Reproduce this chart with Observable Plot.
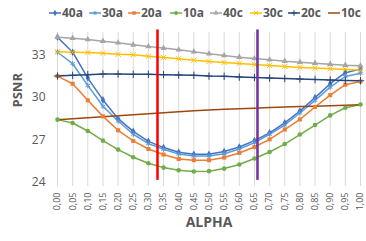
<!DOCTYPE html>
<html>
<head>
<meta charset="utf-8">
<script src="https://cdn.jsdelivr.net/npm/d3@7"></script>
<script src="https://cdn.jsdelivr.net/npm/@observablehq/plot@0.6"></script>
<style>
  html, body { margin: 0; padding: 0; background: #fff; }
  #wrap { position: relative; width: 366px; height: 241px; font-family: "Open Sans", "Liberation Sans", sans-serif; }
  #legend { position: relative; height: 24px; }
  .item { position: absolute; top: 4px; display: flex; align-items: center; font-size: 12px; font-weight: bold; color: #595959; }
  .item svg { margin-right: 1px; }
</style>
</head>
<body>
<div id="wrap">
  <div id="legend"></div>
  <div id="chart"></div>
</div>
<script>
const alpha = [0.00,0.05,0.10,0.15,0.20,0.25,0.30,0.35,0.40,0.45,0.50,0.55,0.60,0.65,0.70,0.75,0.80,0.85,0.90,0.95,1.00];
const yTicks = [24, 27, 30, 33];
const seriesNames = ["40a","30a","20a","10a","40c","30c","20c","10c"];
const seriesColors = ["#4472C4","#5B9BD5","#ED7D31","#70AD47","#A5A5A5","#FFC000","#264478","#9E480E"];
const seriesSymbols = ["diamond","asterisk","square","circle","triangle","times","plus",null];
const markers = [0.33, 0.66];
const markerColors = ["#FF0000", "#7030A0"];

const s40a = [34.24,33.18,31.36,29.82,28.50,27.60,26.90,26.46,26.13,25.99,25.99,26.18,26.50,26.95,27.50,28.20,29.04,29.98,30.96,31.74,31.99];
const s30a = [33.18,32.37,30.84,29.37,28.33,27.40,26.74,26.34,26.00,25.87,25.87,26.03,26.36,26.81,27.40,28.05,28.90,29.79,30.72,31.47,31.70];
const s20a = [31.50,30.96,29.79,28.66,27.68,26.93,26.36,25.97,25.66,25.57,25.57,25.76,26.08,26.50,27.04,27.73,28.45,29.32,30.16,30.89,31.12];
const s10a = [28.43,28.19,27.63,26.95,26.32,25.78,25.36,25.05,24.86,24.77,24.80,24.98,25.27,25.69,26.15,26.71,27.38,28.05,28.73,29.27,29.50];
const s40c = [34.24,34.17,34.08,33.96,33.85,33.70,33.58,33.47,33.35,33.21,33.07,32.95,32.83,32.74,32.65,32.55,32.48,32.41,32.34,32.27,32.23];
const s30c = [33.21,33.18,33.16,33.11,33.04,33.00,32.90,32.81,32.72,32.62,32.53,32.46,32.39,32.32,32.25,32.18,32.11,32.06,32.02,31.97,31.92];
const s20c = [31.50,31.55,31.60,31.64,31.64,31.62,31.62,31.60,31.57,31.55,31.50,31.48,31.43,31.40,31.36,31.33,31.29,31.26,31.22,31.19,31.17];
const s10c = [28.43,28.50,28.57,28.64,28.70,28.77,28.85,28.92,28.99,29.06,29.11,29.16,29.20,29.24,29.28,29.32,29.35,29.38,29.41,29.44,29.48];
const seriesValues = [s40a,s30a,s20a,s10a,s40c,s30c,s20c,s10c];

const rows = [];
seriesNames.forEach((name, si) => {
  alpha.forEach((a, i) => rows.push({series: name, alpha: a, psnr: seriesValues[si][i]}));
});

const symbolMap = {diamond: d3.symbolDiamond, asterisk: d3.symbolAsterisk, square: d3.symbolSquare, circle: d3.symbolCircle, triangle: d3.symbolTriangle, times: d3.symbolTimes, plus: d3.symbolPlus};
const isFilled = s => ["diamond","square","circle","triangle"].includes(s);

// legend
const legendX = [49, 89, 128, 170, 210, 250, 288, 328];
const legend = document.getElementById("legend");
seriesNames.forEach((name, i) => {
  const div = document.createElement("div");
  div.className = "item";
  div.style.left = legendX[i] + "px";
  const sw = d3.create("svg").attr("width", 12).attr("height", 10);
  sw.append("line").attr("x1", 0).attr("x2", 12).attr("y1", 5).attr("y2", 5)
    .attr("stroke", seriesColors[i]).attr("stroke-width", 1.5);
  if (seriesSymbols[i]) {
    const filled = isFilled(seriesSymbols[i]);
    sw.append("path").attr("transform", "translate(6,5)")
      .attr("d", d3.symbol(symbolMap[seriesSymbols[i]], 12)())
      .attr("fill", filled ? seriesColors[i] : "none")
      .attr("stroke", seriesColors[i]).attr("stroke-width", filled ? 0 : 1);
  }
  div.appendChild(sw.node());
  const t = document.createElement("span");
  t.textContent = name;
  div.appendChild(t);
  legend.appendChild(div);
});

const filledNames = seriesNames.filter((n, i) => isFilled(seriesSymbols[i]));
const strokedNames = seriesNames.filter((n, i) => seriesSymbols[i] && !isFilled(seriesSymbols[i]));

const chart = Plot.plot({
  width: 366,
  height: 217,
  marginTop: 8,
  marginLeft: 57,
  marginRight: 6,
  marginBottom: 59,
  style: {fontFamily: "'Open Sans', 'Liberation Sans', sans-serif", color: "#595959", background: "#fff"},
  x: {domain: [0, 1]},
  y: {domain: [24, 34.57]},
  color: {domain: seriesNames, range: seriesColors},
  symbol: {domain: seriesNames, range: seriesSymbols.map(s => s || "circle")},
  marks: [
    Plot.ruleX(alpha, {x: d => d, y1: 24, y2: 34.57, stroke: "#D9D9D9", strokeWidth: 1}),
    Plot.axisX({ticks: alpha, tickFormat: d => d.toFixed(2).replace(".", ","), tickRotate: -90, tickSize: 4, tickPadding: 6, stroke: "#D9D9D9", fill: "#595959", fontSize: 9, label: null}),
    Plot.axisY({ticks: yTicks, tickSize: 0, tickPadding: 12, fontSize: 12, label: null, fill: "#595959"}),
    Plot.line(rows, {x: "alpha", y: "psnr", stroke: "series", z: "series", strokeWidth: 1.5}),
    Plot.dot(rows.filter(d => filledNames.includes(d.series)), {x: "alpha", y: "psnr", symbol: "series", fill: "series", r: 2.3}),
    Plot.dot(rows.filter(d => strokedNames.includes(d.series)), {x: "alpha", y: "psnr", symbol: "series", stroke: "series", r: 2.5, strokeWidth: 1}),
    Plot.ruleX(markers, {x: d => d, y1: 24.15, y2: 34.75, stroke: (d, i) => markerColors[i], strokeWidth: 2.5}),
    Plot.text(["ALPHA"], {frameAnchor: "bottom", dy: 44, fontSize: 14, fontWeight: "bold", fill: "#595959"}),
    Plot.text(["PSNR"], {frameAnchor: "left", dx: -40, rotate: -90, fontSize: 13, fontWeight: "bold", fill: "#595959"})
  ]
});
document.getElementById("chart").appendChild(chart);
</script>
</body>
</html>
